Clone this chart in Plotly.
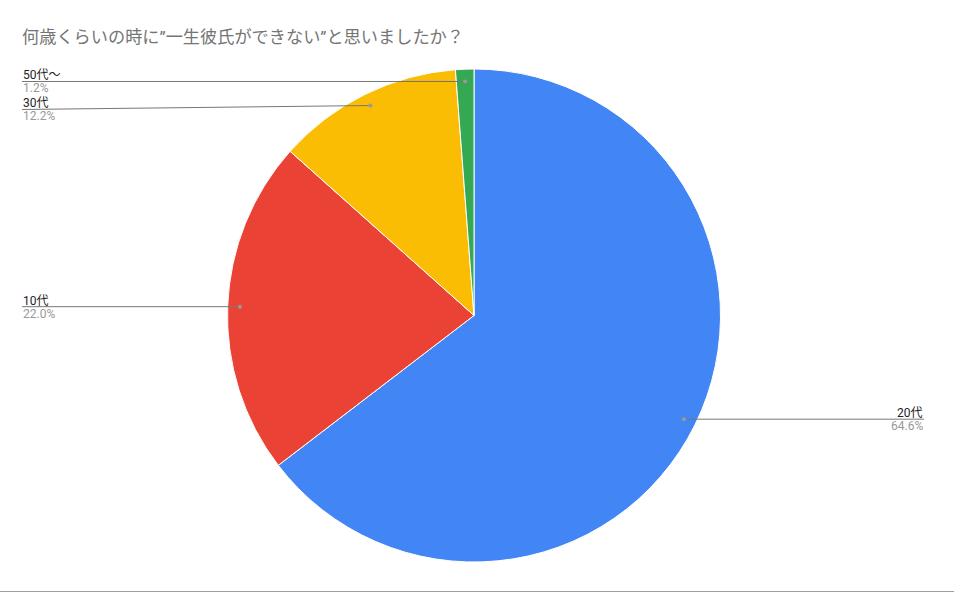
import math
import plotly.graph_objects as go

labels = ["20代", "10代", "30代", "50代〜"]
values = [64.6, 22.0, 12.2, 1.2]
colors = ["#4285F4", "#EA4335", "#FBBC04", "#34A853"]
title = "何歳くらいの時に”一生彼氏ができない”と思いましたか？"

W, H = 954, 593
CX, CY, R = 474, 315.5, 246.5

def px(x):
    return x / W

def py(y):
    return 1 - y / H

fig = go.Figure(go.Pie(
    labels=labels, values=values, sort=False, direction="clockwise",
    marker=dict(colors=colors, line=dict(color="white", width=1)),
    textinfo="none", hoverinfo="label+percent", showlegend=False,
    domain=dict(x=[px(CX - R), px(CX + R)], y=[py(CY + R), py(CY - R)]),
))

font_main = "Roboto, 'Noto Sans CJK JP', Arial, sans-serif"
shapes = []
annotations = []
total = sum(values)
cum = 0
items = []
for lab, v in zip(labels, values):
    mid = (cum + v / 2) / total * 2 * math.pi
    cum += v
    dx, dy = R * 0.95 * math.sin(mid), -R * 0.95 * math.cos(mid)
    items.append((lab, v, CX + dx, CY + dy))

left = sorted([it for it in items if it[2] < CX], key=lambda t: t[3])
right = [it for it in items if it[2] >= CX]
placed = []
prev_y = None
for lab, v, x, y in left:
    ly = y
    if prev_y is not None and ly < prev_y + 28:
        ly = prev_y + 28
    prev_y = ly
    placed.append((lab, v, x, y, ly, "left"))
for lab, v, x, y in right:
    placed.append((lab, v, x, y, y, "right"))

for lab, v, x, y, ly, side in placed:
    tx = 22 if side == "left" else 924
    shapes.append(dict(type="line", xref="paper", yref="paper",
                       x0=px(tx), y0=py(ly), x1=px(x), y1=py(y),
                       line=dict(color="#777777", width=1)))
    shapes.append(dict(type="circle", xref="paper", yref="paper",
                       x0=px(x - 2), x1=px(x + 2), y0=py(y + 2), y1=py(y - 2),
                       fillcolor="#999999", line=dict(width=0)))
    anchor = "left" if side == "left" else "right"
    annotations.append(dict(x=px(tx), y=py(ly), xref="paper", yref="paper",
                            text=lab, showarrow=False, xanchor=anchor, yanchor="bottom",
                            yshift=-2, borderpad=0,
                            font=dict(family=font_main, size=12, color="#222222")))
    annotations.append(dict(x=px(tx), y=py(ly), xref="paper", yref="paper",
                            text=f"{v:.1f}%", showarrow=False, xanchor=anchor, yanchor="top",
                            yshift=1, borderpad=0,
                            font=dict(family=font_main, size=12, color="#999999")))

shapes.append(dict(type="line", xref="paper", yref="paper", x0=0, x1=1,
                   y0=py(591.5), y1=py(591.5), line=dict(color="#9e9e9e", width=1)))

fig.update_layout(
    width=W, height=H, margin=dict(l=0, r=0, t=0, b=0),
    paper_bgcolor="white", plot_bgcolor="white",
    title=dict(text=title, x=px(22), xanchor="left", xref="paper",
               y=py(37), yanchor="middle", yref="paper",
               font=dict(family=font_main, size=17.2, color="#757575")),
    shapes=shapes, annotations=annotations,
)

fig.write_html("out.html", config={"displayModeBar": False},
               post_script="document.body.style.margin='0';")
